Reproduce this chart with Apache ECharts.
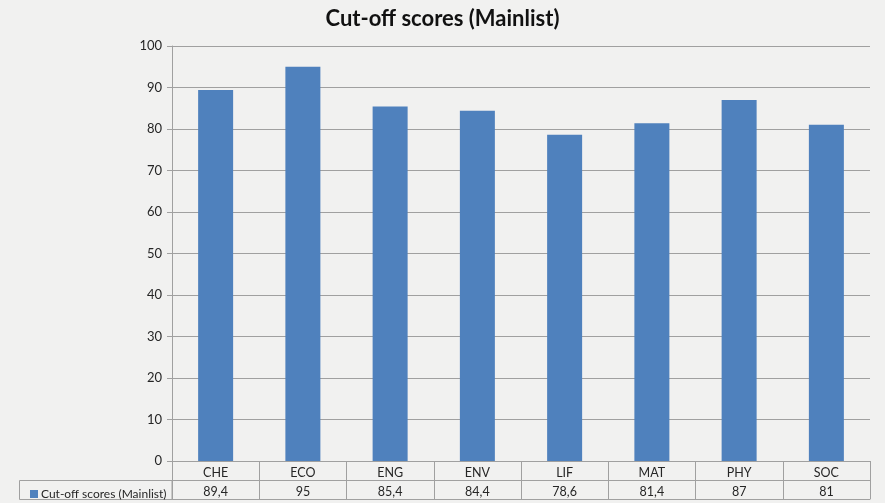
<!DOCTYPE html>
<html>
<head>
<meta charset="utf-8">
<script src="https://cdn.jsdelivr.net/npm/echarts@6/dist/echarts.min.js"></script>
<style>html,body{margin:0;padding:0;background:#f1f1f0;}#c{width:885px;height:503px;}</style>
</head>
<body>
<div id="c"></div>
<script>
const categories = ['CHE', 'ECO', 'ENG', 'ENV', 'LIF', 'MAT', 'PHY', 'SOC'];
const seriesName = 'Cut-off scores (Mainlist)';
const values = [89.4, 95, 85.4, 84.4, 78.6, 81.4, 87, 81];
const yTicks = [0, 10, 20, 30, 40, 50, 60, 70, 80, 90, 100];

const lineColor = '#a0a0a0';
const txt = '#262626';
const font = 'Lato, "Open Sans", sans-serif';

const chart = echarts.init(document.getElementById('c'));
chart.setOption({
  backgroundColor: '#f1f1f0',
  animation: false,
  textStyle: { fontFamily: font },
  title: {
    text: seriesName, left: 'center', top: 3,
    textStyle: { fontSize: 22, fontWeight: 'bold', color: '#111', fontFamily: font }
  },
  legend: {
    data: [seriesName], left: 25, top: 483, itemWidth: 8, itemHeight: 8, icon: 'rect', itemGap: 4,
    textStyle: { fontSize: 12, color: txt, fontFamily: font, padding: [0, 0, 0, -2] }
  },
  grid: { left: 172, right: 15, top: 46, bottom: 42, containLabel: false },
  xAxis: [
    {
      type: 'category', data: categories, position: 'bottom',
      axisLine: { show: true, lineStyle: { color: lineColor, width: 1 } },
      axisTick: { show: true, length: 38, interval: 0, lineStyle: { color: lineColor } },
      axisLabel: { margin: 5, fontSize: 12.5, color: txt, interval: 0 }
    },
    {
      type: 'category', data: values.map(v => String(v).replace('.', ',')), position: 'bottom', offset: 19,
      axisLine: { show: true, lineStyle: { color: lineColor, width: 1 } },
      axisTick: { show: false },
      axisLabel: { margin: 5, fontSize: 12.5, color: txt, interval: 0 }
    },
    {
      type: 'category', data: categories, position: 'bottom', offset: 38,
      axisLine: { show: true, lineStyle: { color: lineColor, width: 1 } },
      axisTick: { show: false }, axisLabel: { show: false }
    }
  ],
  yAxis: {
    type: 'value', min: 0, max: 100, interval: 10,
    axisLine: { show: true, lineStyle: { color: lineColor } },
    axisTick: { show: true, length: 5, lineStyle: { color: lineColor } },
    axisLabel: { fontSize: 13, color: txt, margin: 10 },
    splitLine: { show: true, lineStyle: { color: lineColor, width: 1 } }
  },
  graphic: [
    { type: 'rect', shape: { x: 19.5, y: 480.5, width: 152.5, height: 19 }, style: { fill: 'none', stroke: lineColor, lineWidth: 1 } }
  ],
  series: [{
    name: seriesName, type: 'bar', data: values, xAxisIndex: 0, barWidth: 35,
    itemStyle: { color: '#4f81bd' }
  }]
});
</script>
</body>
</html>
